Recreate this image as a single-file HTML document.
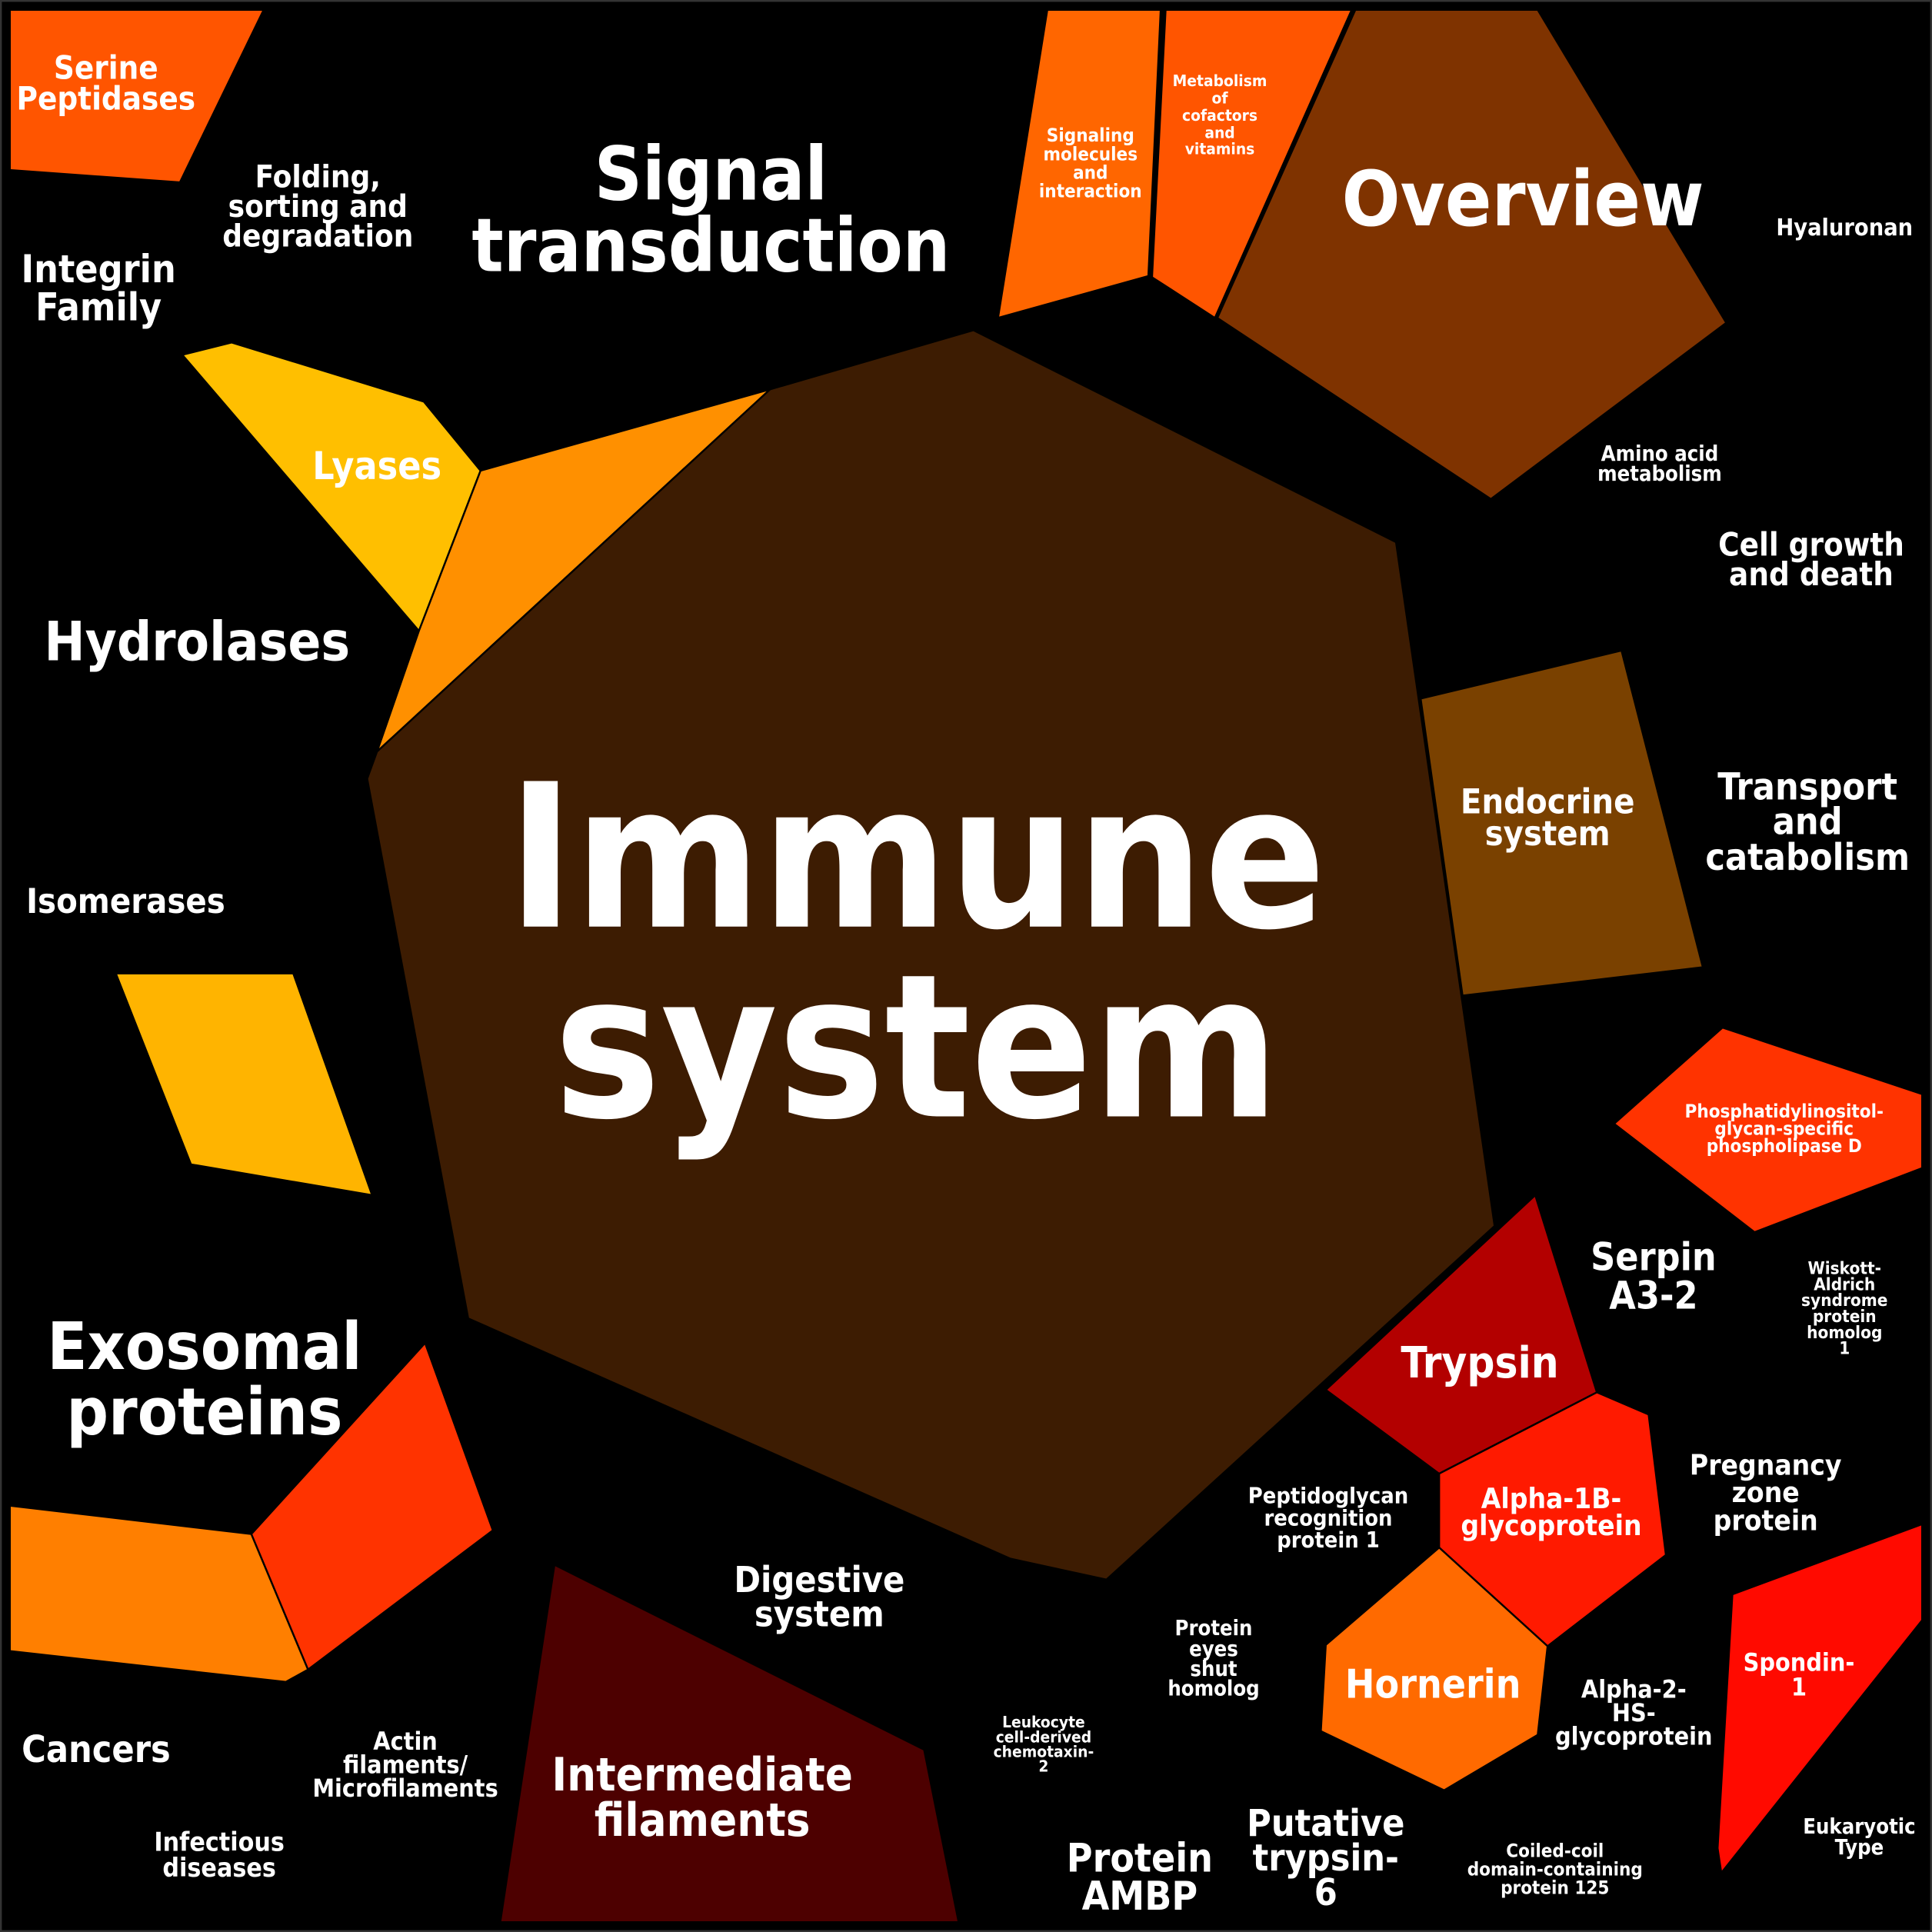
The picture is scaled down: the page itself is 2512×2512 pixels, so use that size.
<!DOCTYPE html>
<html><head><meta charset="utf-8"><style>
html,body{margin:0;padding:0;background:#000}
svg{display:block}
text{font-family:"DejaVu Sans Condensed","DejaVu Sans","Liberation Sans",sans-serif;font-stretch:condensed;font-weight:bold;fill:#fff;text-anchor:middle}
</style></head><body>
<svg width="2512" height="2512" viewBox="0 0 1568 1568" xmlns="http://www.w3.org/2000/svg">
<rect x="0" y="0" width="1568" height="1568" fill="#000" stroke="#333" stroke-width="3"/>
<g stroke="#000" stroke-width="1.5">
<polygon points="8,8 214,8 146,148 8,138" fill="#ff5500"/>
<polygon points="148,288 188,278 344,326 390,382 340,512" fill="#ffbf00"/>
<polygon points="390,382 625,316 306,610 340,512" fill="#ff9000"/>
<polygon points="625,316 790,268 1133,440 1213,995 898,1282 820,1265 380,1070 298,632 306,610" fill="#3d1c02"/>
<polygon points="1153,567 1316,528 1382,785 1187,808" fill="#7a4100"/>
<polygon points="850,8 942,8 932,224 810,258" fill="#ff6600"/>
<polygon points="946,8 1097,8 986,258 935,225" fill="#ff5500"/>
<polygon points="1100,8 1248,8 1401,262 1210,405 988,258" fill="#7f3300"/>
<polygon points="94,790 238,790 302,970 155,945" fill="#ffb400"/>
<polygon points="8,1222 204,1245 250,1355 232,1365 8,1340" fill="#ff7f00"/>
<polygon points="204,1245 345,1090 400,1242 250,1355" fill="#ff3300"/>
<polygon points="450,1270 750,1420 778,1560 406,1560" fill="#4d0000"/>
<polygon points="1310,912 1398,834 1560,888 1560,948 1424,1000" fill="#ff3300"/>
<polygon points="1076,1128 1246,970 1296,1130 1168,1196" fill="#b30000"/>
<polygon points="1168,1196 1296,1130 1338,1148 1352,1262 1256,1336 1168,1256" fill="#ff1a00"/>
<polygon points="1076,1335 1168,1256 1256,1336 1248,1408 1172,1453 1072,1405" fill="#ff6a00"/>
<polygon points="1406,1294 1560,1237 1560,1315 1397,1520 1394,1500" fill="#ff0a00"/>
</g>
<text x="86" y="64" font-size="26">Serine</text>
<text x="86" y="89" font-size="26">Peptidases</text>
<text x="258" y="152" font-size="25">Folding,</text>
<text x="258" y="176" font-size="25">sorting and</text>
<text x="258" y="200" font-size="25">degradation</text>
<text x="577" y="162" font-size="60">Signal</text>
<text x="577" y="220" font-size="60">transduction</text>
<text x="80" y="229" font-size="31">Integrin</text>
<text x="80" y="260" font-size="31">Family</text>
<text x="306" y="389" font-size="31">Lyases</text>
<text x="160" y="536" font-size="44">Hydrolases</text>
<text x="102" y="741" font-size="28">Isomerases</text>
<text x="166" y="1111" font-size="53">Exosomal</text>
<text x="166" y="1164" font-size="53">proteins</text>
<text x="78" y="1430" font-size="30">Cancers</text>
<text x="329" y="1420" font-size="20">Actin</text>
<text x="329" y="1439" font-size="20">filaments/</text>
<text x="329" y="1458" font-size="20">Microfilaments</text>
<text x="178" y="1502" font-size="21">Infectious</text>
<text x="178" y="1523" font-size="21">diseases</text>
<text x="570" y="1453" font-size="37">Intermediate</text>
<text x="570" y="1490" font-size="37">filaments</text>
<text x="665" y="1292" font-size="29">Digestive</text>
<text x="665" y="1320" font-size="29">system</text>
<text x="744" y="752" font-size="162">Immune</text>
<text x="744" y="906" font-size="162">system</text>
<text x="885" y="115" font-size="15">Signaling</text>
<text x="885" y="130" font-size="15">molecules</text>
<text x="885" y="145" font-size="15">and</text>
<text x="885" y="160" font-size="15">interaction</text>
<text x="990" y="70" font-size="13">Metabolism</text>
<text x="990" y="84" font-size="13">of</text>
<text x="990" y="98" font-size="13">cofactors</text>
<text x="990" y="112" font-size="13">and</text>
<text x="990" y="125" font-size="13">vitamins</text>
<text x="1236" y="183" font-size="62">Overview</text>
<text x="1497" y="191" font-size="19">Hyaluronan</text>
<text x="1347" y="374" font-size="17">Amino acid</text>
<text x="1347" y="390" font-size="17">metabolism</text>
<text x="1470" y="451" font-size="26">Cell growth</text>
<text x="1470" y="475" font-size="26">and death</text>
<text x="1256" y="660" font-size="28">Endocrine</text>
<text x="1256" y="686" font-size="28">system</text>
<text x="1467" y="649" font-size="30">Transport</text>
<text x="1467" y="677" font-size="30">and</text>
<text x="1467" y="706" font-size="30">catabolism</text>
<text x="1448" y="907" font-size="15">Phosphatidylinositol-</text>
<text x="1448" y="921" font-size="15">glycan-specific</text>
<text x="1448" y="935" font-size="15">phospholipase D</text>
<text x="1342" y="1031" font-size="31">Serpin</text>
<text x="1342" y="1062" font-size="31">A3-2</text>
<text x="1497" y="1034" font-size="14">Wiskott-</text>
<text x="1497" y="1047" font-size="14">Aldrich</text>
<text x="1497" y="1060" font-size="14">syndrome</text>
<text x="1497" y="1073" font-size="14">protein</text>
<text x="1497" y="1086" font-size="14">homolog</text>
<text x="1497" y="1099" font-size="14">1</text>
<text x="1201" y="1118" font-size="35">Trypsin</text>
<text x="1259" y="1224" font-size="23">Alpha-1B-</text>
<text x="1259" y="1246" font-size="23">glycoprotein</text>
<text x="1433" y="1197" font-size="23">Pregnancy</text>
<text x="1433" y="1219" font-size="23">zone</text>
<text x="1433" y="1242" font-size="23">protein</text>
<text x="1078" y="1220" font-size="18">Peptidoglycan</text>
<text x="1078" y="1238" font-size="18">recognition</text>
<text x="1078" y="1256" font-size="18">protein 1</text>
<text x="985" y="1327" font-size="17">Protein</text>
<text x="985" y="1344" font-size="17">eyes</text>
<text x="985" y="1360" font-size="17">shut</text>
<text x="985" y="1376" font-size="17">homolog</text>
<text x="1163" y="1378" font-size="32">Hornerin</text>
<text x="1326" y="1378" font-size="20">Alpha-2-</text>
<text x="1326" y="1397" font-size="20">HS-</text>
<text x="1326" y="1416" font-size="20">glycoprotein</text>
<text x="1460" y="1356" font-size="20">Spondin-</text>
<text x="1460" y="1376" font-size="20">1</text>
<text x="847" y="1402" font-size="13">Leukocyte</text>
<text x="847" y="1414" font-size="13">cell-derived</text>
<text x="847" y="1426" font-size="13">chemotaxin-</text>
<text x="847" y="1438" font-size="13">2</text>
<text x="925" y="1519" font-size="32">Protein</text>
<text x="925" y="1550" font-size="32">AMBP</text>
<text x="1076" y="1490" font-size="30">Putative</text>
<text x="1076" y="1518" font-size="30">trypsin-</text>
<text x="1076" y="1546" font-size="30">6</text>
<text x="1262" y="1507" font-size="15">Coiled-coil</text>
<text x="1262" y="1522" font-size="15">domain-containing</text>
<text x="1262" y="1537" font-size="15">protein 125</text>
<text x="1509" y="1488" font-size="17">Eukaryotic</text>
<text x="1509" y="1505" font-size="17">Type</text>
</svg>
</body></html>
